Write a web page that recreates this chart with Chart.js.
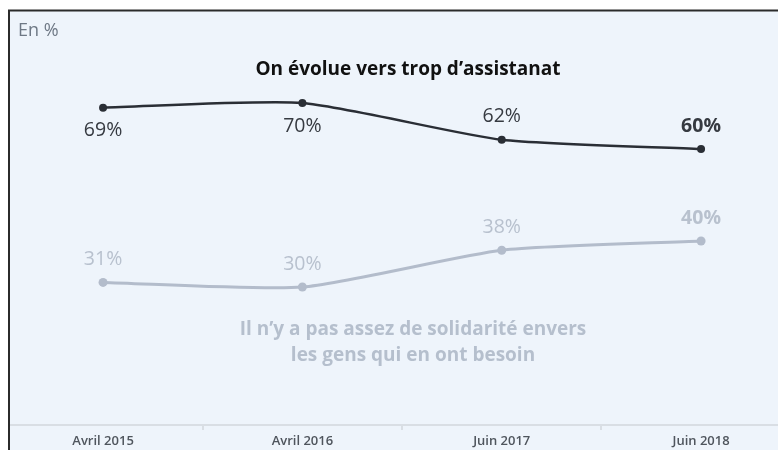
<!DOCTYPE html>
<html>
<head>
<meta charset="utf-8">
<script src="https://cdn.jsdelivr.net/npm/chart.js@4/dist/chart.umd.min.js"></script>
<style>
  html, body { margin: 0; padding: 0; background: #fff; }
  #wrap { width: 778px; height: 450px; position: relative; }
</style>
</head>
<body>
<div id="wrap"><canvas id="chart"></canvas></div>
<script>
// data
const periods = ['Avril 2015', 'Avril 2016', 'Juin 2017', 'Juin 2018']
const assistanat = [69, 70, 62, 60]
const solidarite = [31, 30, 38, 40]

const FONT = '"Open Sans", "Noto Sans", sans-serif'
const DARK = '#2a2e35'
const GREY = '#b3bccb'

// where the % labels go: -1 above the point, 1 below
const darkSide = [1, 1, -1, -1]
const greySide = [-1, -1, -1, -1]

const panelPlugin = {
  id: 'panel',
  beforeDraw(chart) {
    const c = chart.ctx
    c.save()
    c.fillStyle = '#ffffff'
    c.fillRect(0, 0, chart.width, chart.height)
    c.fillStyle = '#eef4fb'
    c.fillRect(9, 11, chart.width - 9, chart.height - 11)
    c.restore()
  },
  afterDraw(chart) {
    const c = chart.ctx
    c.save()
    // white margin left of the frame
    c.fillStyle = '#ffffff'
    c.fillRect(0, 0, 8, chart.height)
    c.strokeStyle = '#2b2b2b'
    c.lineWidth = 2
    c.beginPath()
    c.moveTo(9, chart.height)
    c.lineTo(9, 10.5)
    c.lineTo(chart.width, 10.5)
    c.stroke()

    c.textBaseline = 'middle'
    c.fillStyle = '#6e7885'
    c.font = '18px ' + FONT
    c.textAlign = 'left'
    c.fillText('En %', 18, 31)

    c.textAlign = 'center'
    c.fillStyle = '#111111'
    c.font = 'bold 19px ' + FONT
    c.fillText('On évolue vers trop d\u2019assistanat', 408, 70)

    c.fillStyle = '#b5bfcd'
    c.font = 'bold 19px ' + FONT
    c.fillText('Il n\u2019y a pas assez de solidarité envers', 413, 330)
    c.fillText('les gens qui en ont besoin', 413, 356)

    // value labels
    const drawLabels = (idx, values, side, color) => {
      const pts = chart.getDatasetMeta(idx).data
      pts.forEach((p, i) => {
        const last = i === values.length - 1
        c.fillStyle = color
        c.font = (last ? 'bold ' : '') + '19.5px ' + FONT
        c.fillText(values[i] + '%', p.x, p.y + side[i] * 23)
      })
    }
    drawLabels(0, assistanat, darkSide, '#363a41')
    drawLabels(1, solidarite, greySide, '#b8c1ce')
    c.restore()
  }
}

const toPoints = arr => arr.map((v, i) => ({ x: i, y: v }))

new Chart(document.getElementById('chart'), {
  type: 'line',
  data: {
    datasets: [
      {
        label: 'On évolue vers trop d\u2019assistanat',
        data: toPoints(assistanat),
        borderColor: DARK,
        backgroundColor: DARK,
        borderWidth: 2.5,
        pointRadius: 4,
        pointBackgroundColor: DARK,
        pointBorderWidth: 0,
        tension: 0.2
      },
      {
        label: 'Il n\u2019y a pas assez de solidarité envers les gens qui en ont besoin',
        data: toPoints(solidarite),
        borderColor: GREY,
        backgroundColor: GREY,
        borderWidth: 3,
        pointRadius: 4.5,
        pointBackgroundColor: GREY,
        pointBorderWidth: 0,
        tension: 0.2
      }
    ]
  },
  options: {
    responsive: true,
    maintainAspectRatio: false,
    animation: false,
    layout: { padding: 0, autoPadding: false },
    plugins: {
      legend: { display: false },
      tooltip: { enabled: false }
    },
    scales: {
      x: {
        type: 'linear',
        min: -0.517,
        max: 3.386,
        afterBuildTicks(scale) {
          scale.ticks = [0, 0.5, 1, 1.5, 2, 2.5, 3].map(v => ({ value: v }))
        },
        afterFit(scale) { scale.height = 25 },
        grid: {
          drawOnChartArea: false,
          drawTicks: true,
          tickLength: 5,
          color: ctx => (ctx.tick && ctx.tick.value % 1 !== 0) ? '#d9dee4' : 'rgba(0,0,0,0)',
          lineWidth: 2
        },
        border: { display: true, color: '#d9dee4', width: 2 },
        ticks: {
          autoSkip: false,
          maxRotation: 0,
          padding: 3,
          color: '#4f555d',
          font: { family: FONT, size: 13, weight: '600' },
          callback: v => (v % 1 === 0 ? periods[v] : '')
        }
      },
      y: {
        display: false,
        min: 0,
        max: 92.4
      }
    }
  },
  plugins: [panelPlugin]
})
</script>
</body>
</html>
